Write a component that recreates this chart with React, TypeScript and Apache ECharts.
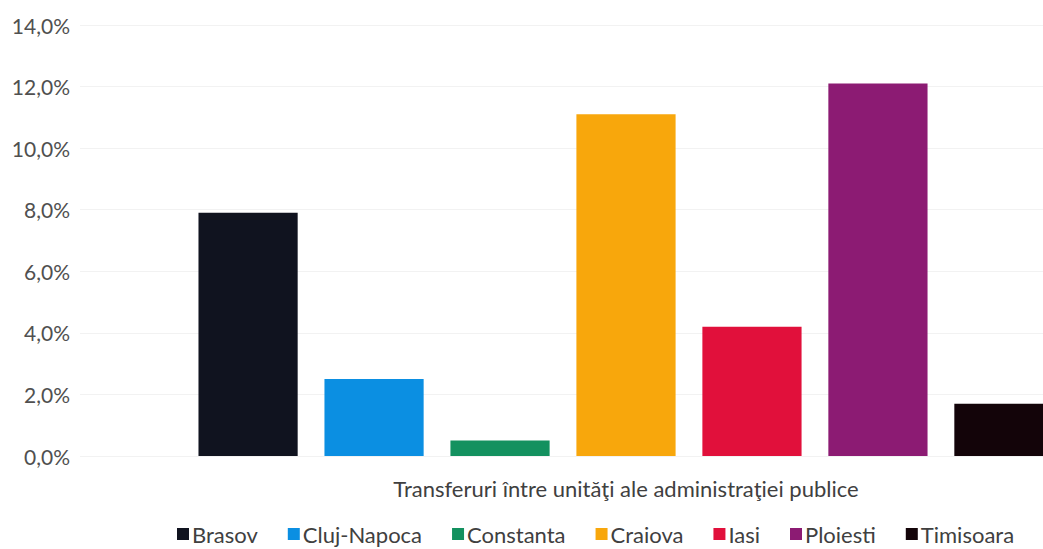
import React, { useEffect, useRef } from "react";
import * as echarts from "echarts";

const categories = ["Transferuri între unităţi ale administraţiei publice"];
const cities = ["Brasov", "Cluj-Napoca", "Constanta", "Craiova", "Iasi", "Ploiesti", "Timisoara"];
const values = [7.9, 2.5, 0.5, 11.1, 4.2, 12.1, 1.7];
const colors = ["#10131f", "#0b8fe2", "#13915f", "#f8a70c", "#e1103b", "#8c1b73", "#130409"];
const yTicks = { min: 0, max: 14, interval: 2 };

const fmt = (v: number) => v.toFixed(1).replace(".", ",") + "%";

export default function App() {
  const ref = useRef<HTMLDivElement>(null);
  useEffect(() => {
    if (!ref.current) return;
    const chart = echarts.init(ref.current, undefined, { renderer: "svg" });
    const font = "Lato, 'Open Sans', sans-serif";
    chart.setOption({
      animation: false,
      backgroundColor: "#ffffff",
      textStyle: { fontFamily: font },
      grid: {
        left: 80,
        width: 1092,
        top: 25,
        bottom: 93,
        containLabel: false,
        outerBoundsMode: "none",
      },
      legend: {
        top: 523,
        left: 177,
        padding: 0,
        icon: "rect",
        itemWidth: 12,
        itemHeight: 12,
        itemGap: 30,
        textStyle: {
          fontSize: 22,
          lineHeight: 20,
          color: "#404040",
          fontFamily: font,
          padding: [0, 0, 0, -2],
        },
        data: cities,
      },
      xAxis: {
        type: "category",
        data: categories,
        axisLine: { show: false },
        axisTick: { show: false },
        axisLabel: { fontSize: 22, color: "#404040", margin: 21, fontFamily: font },
      },
      yAxis: {
        type: "value",
        min: yTicks.min,
        max: yTicks.max,
        interval: yTicks.interval,
        axisLine: { show: false },
        axisTick: { show: false },
        splitLine: { lineStyle: { color: "#f2f2f2" } },
        axisLabel: { fontSize: 21, color: "#505050", margin: 10, formatter: fmt, fontFamily: font },
      },
      series: cities.map((c, i) => ({
        name: c,
        type: "bar",
        data: [values[i]],
        itemStyle: { color: colors[i] },
        barGap: "27%",
        barCategoryGap: "21.7%",
      })),
    });
    return () => chart.dispose();
  }, []);
  return (
    <div
      ref={ref}
      style={{ position: "absolute", left: 0, top: 0, width: 1043, height: 549 }}
    />
  );
}
